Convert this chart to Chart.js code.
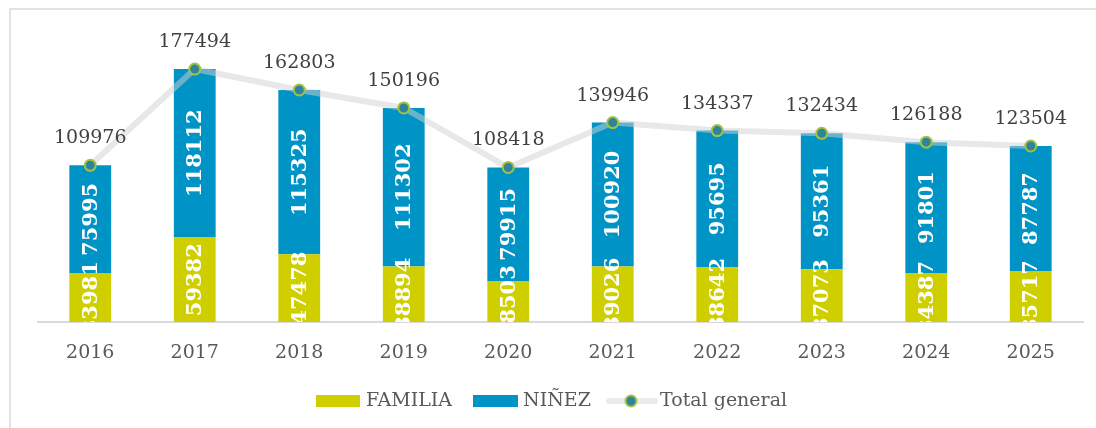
<!DOCTYPE html>
<html>
<head>
<meta charset="utf-8">
<script src="https://cdn.jsdelivr.net/npm/chart.js@4/dist/chart.umd.min.js"></script>
<style>
    body { margin: 0; background: #fff; }
    #wrap { width: 1096px; height: 428px; }
</style>
</head>
<body>
<div id="wrap"><canvas id="myChart" width="1096" height="428"></canvas></div>
<script>
// Chart data
const years = ['2016', '2017', '2018', '2019', '2020', '2021', '2022', '2023', '2024', '2025'];
const familia = [33981, 59382, 47478, 38894, 28503, 39026, 38642, 37073, 34387, 35717];
const ninez = [75995, 118112, 115325, 111302, 79915, 100920, 95695, 95361, 91801, 87787];
const totalGeneral = [109976, 177494, 162803, 150196, 108418, 139946, 134337, 132434, 126188, 123504];

const serif = "'DejaVu Serif', serif";
const yellow = '#CFCF00';
const blue = '#0093C6';

// white background + light frame around the chart
const framePlugin = {
    id: 'frame',
    beforeDraw(chart) {
        const ctx = chart.ctx;
        ctx.save();
        ctx.fillStyle = '#fff';
        ctx.fillRect(0, 0, chart.width, chart.height);
        ctx.strokeStyle = '#d9d9d9';
        ctx.lineWidth = 1.5;
        ctx.strokeRect(10, 9, chart.width + 20, chart.height + 20);
        ctx.restore();
    }
};

// value labels: rotated inside bars, plain above line points
const labelPlugin = {
    id: 'labels',
    afterDatasetsDraw(chart) {
        const ctx = chart.ctx;
        const area = chart.chartArea;
        ctx.save();
        ctx.beginPath();
        ctx.rect(area.left, 0, area.right - area.left, area.bottom);
        ctx.clip();
        ctx.fillStyle = '#fff';
        ctx.font = 'bold 21px ' + serif;
        ctx.textAlign = 'center';
        ctx.textBaseline = 'middle';
        [0, 1].forEach(di => {
            const meta = chart.getDatasetMeta(di);
            meta.data.forEach((bar, i) => {
                const mid = (bar.y + bar.base) / 2;
                ctx.save();
                ctx.translate(bar.x, mid);
                ctx.rotate(-Math.PI / 2);
                ctx.fillText(chart.data.datasets[di].data[i], 0, 1);
                ctx.restore();
            });
        });
        ctx.restore();

        ctx.save();
        ctx.fillStyle = '#404040';
        ctx.font = '19px ' + serif;
        ctx.textAlign = 'center';
        ctx.textBaseline = 'middle';
        const lineMeta = chart.getDatasetMeta(2);
        lineMeta.data.forEach((pt, i) => {
            ctx.fillText(totalGeneral[i], pt.x, pt.y - 27);
        });
        ctx.restore();
    }
};

// legend drawn by hand (line + dot marker for the total)
const legendPlugin = {
    id: 'customLegend',
    afterDraw(chart) {
        const ctx = chart.ctx;
        const y = 401;
        ctx.save();
        ctx.font = '19px ' + serif;
        ctx.textBaseline = 'middle';

        ctx.fillStyle = yellow;
        ctx.fillRect(316, y - 6, 44, 12);
        ctx.fillStyle = '#595959';
        ctx.fillText('FAMILIA', 366, y);

        ctx.fillStyle = blue;
        ctx.fillRect(473, y - 6, 45, 12);
        ctx.fillStyle = '#595959';
        ctx.fillText('NIÑEZ', 523, y);

        ctx.strokeStyle = '#ebebeb';
        ctx.lineWidth = 6;
        ctx.lineCap = 'round';
        ctx.beginPath();
        ctx.moveTo(609, y);
        ctx.lineTo(655, y);
        ctx.stroke();
        ctx.beginPath();
        ctx.arc(631, y, 5.5, 0, Math.PI * 2);
        ctx.fillStyle = '#2F849B';
        ctx.fill();
        ctx.lineWidth = 2;
        ctx.strokeStyle = '#A5C140';
        ctx.stroke();
        ctx.fillStyle = '#595959';
        ctx.fillText('Total general', 660, y);
        ctx.restore();
    }
};

const ctx = document.getElementById('myChart').getContext('2d');
const chart = new Chart(ctx, {
    type: 'bar',
    data: {
        labels: years,
        datasets: [
            {
                label: 'FAMILIA',
                data: familia,
                backgroundColor: yellow,
                barPercentage: 0.5,
                categoryPercentage: 0.8,
                order: 2
            },
            {
                label: 'NIÑEZ',
                data: ninez,
                backgroundColor: blue,
                barPercentage: 0.5,
                categoryPercentage: 0.8,
                order: 2
            },
            {
                type: 'line',
                label: 'Total general',
                data: totalGeneral,
                stack: 'total',
                borderColor: 'rgba(210, 210, 210, 0.5)',
                borderWidth: 6,
                pointRadius: 5.5,
                pointBorderWidth: 2,
                pointBackgroundColor: '#2F849B',
                pointBorderColor: '#A5C140',
                tension: 0,
                order: 1
            }
        ]
    },
    options: {
        responsive: false,
        animation: false,
        layout: {
            padding: { left: 38, right: 13, top: 37, bottom: 0 }
        },
        plugins: {
            legend: { display: false },
            tooltip: { enabled: false }
        },
        scales: {
            x: {
                stacked: true,
                grid: { display: false },
                border: { display: true, color: '#d9d9d9', width: 2 },
                ticks: {
                    color: '#595959',
                    font: { family: serif, size: 19 },
                    padding: 12
                },
                afterFit(scale) {
                    scale.height = 106;
                }
            },
            y: {
                stacked: true,
                display: false,
                min: 0,
                max: 200000
            }
        }
    },
    plugins: [framePlugin, labelPlugin, legendPlugin]
});
</script>
</body>
</html>
